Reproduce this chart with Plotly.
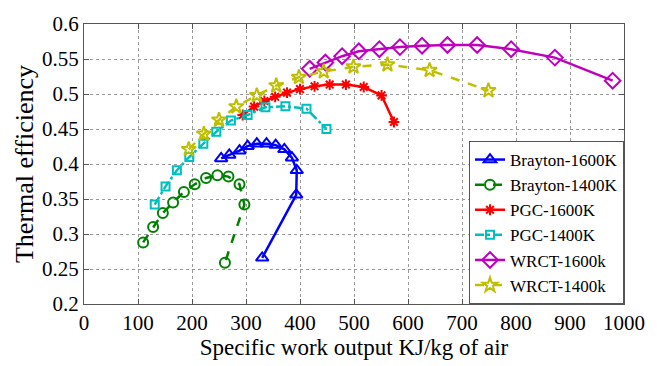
import plotly.graph_objects as go

# Data
brayton1600_x = [254, 269, 288, 303, 320, 338, 355, 371, 385, 394, 393, 330]
brayton1600_y = [0.408, 0.413, 0.419, 0.4255, 0.429, 0.429, 0.427, 0.421, 0.409, 0.391, 0.356, 0.266]

brayton1400_x = [109.5, 128, 146, 165, 185, 205, 226, 247, 267.5, 288, 297, 261]
brayton1400_y = [0.288, 0.310, 0.330, 0.345, 0.360, 0.371, 0.380, 0.384, 0.382, 0.371, 0.342, 0.259]

pgc1600_x = [294, 315, 334, 354, 376, 400, 427, 455, 485, 518, 551, 574]
pgc1600_y = [0.470, 0.482, 0.490, 0.496, 0.502, 0.507, 0.511, 0.5135, 0.5135, 0.510, 0.498, 0.460]

pgc1400_x = [131, 151, 172, 195, 221, 245, 272, 303, 336, 373, 412, 449]
pgc1400_y = [0.342, 0.368, 0.391, 0.410, 0.429, 0.446, 0.462, 0.470, 0.481, 0.4825, 0.479, 0.450]

wrct1600_x = [418, 447, 478, 509, 547, 585, 626, 673, 728, 791, 872, 979]
wrct1600_y = [0.536, 0.545, 0.554, 0.561, 0.564, 0.567, 0.569, 0.570, 0.570, 0.564, 0.552, 0.519]

wrct1400_x = [194, 222, 250, 282, 320, 356, 398, 444, 499, 562, 640, 749]
wrct1400_y = [0.421, 0.443, 0.463, 0.482, 0.498, 0.512, 0.524, 0.532, 0.539, 0.542, 0.534, 0.505]

x_ticks = [0, 100, 200, 300, 400, 500, 600, 700, 800, 900, 1000]
y_ticks = [0.2, 0.25, 0.3, 0.35, 0.4, 0.45, 0.5, 0.55, 0.6]

series = [
    ("Brayton-1600K", brayton1600_x, brayton1600_y, "#0000FF", "solid", "triangle-up-open", 11),
    ("Brayton-1400K", brayton1400_x, brayton1400_y, "#008000", "dash", "circle-open", 10),
    ("PGC-1600K", pgc1600_x, pgc1600_y, "#FF0000", "solid", "asterisk-open", 9),
    ("PGC-1400K", pgc1400_x, pgc1400_y, "#00BFBF", "dashdot", "square-open", 8),
    ("WRCT-1600k", wrct1600_x, wrct1600_y, "#BF00BF", "solid", "diamond-open", 12),
    ("WRCT-1400k", wrct1400_x, wrct1400_y, "#BFBF00", "dash", "star-open", 11),
]

SERIF = "Liberation Serif, Times New Roman, Times, serif"

fig = go.Figure()
for name, xs, ys, col, dash, sym, size in series:
    fig.add_trace(go.Scatter(
        x=xs, y=ys, name=name, mode="lines+markers",
        line=dict(color=col, width=2.5, dash=dash),
        marker=dict(symbol=sym, size=size, color=col, line=dict(color=col, width=2)),
    ))

axis_common = dict(
    showgrid=True, gridcolor="#999999", griddash="dot", gridwidth=1,
    showline=True, linecolor="#555555", linewidth=1, mirror="ticks",
    ticks="inside", ticklen=5, tickcolor="#555555", zeroline=False,
    tickfont=dict(family=SERIF, size=21, color="black"),
)

fig.update_layout(
    width=657, height=366,
    margin=dict(l=84, r=25, t=16, b=62),
    paper_bgcolor="white", plot_bgcolor="white",
    font=dict(family=SERIF, color="black"),
    xaxis=dict(range=[0, 1000], tickvals=x_ticks, ticktext=[str(v) for v in x_ticks],
               title=dict(text="Specific work output KJ/kg of air",
                          font=dict(family=SERIF, size=23), standoff=0),
               **axis_common),
    yaxis=dict(range=[0.2, 0.6], tickvals=y_ticks, ticktext=[f"{v:g}" for v in y_ticks],
               title=dict(text="Thermal efficiency",
                          font=dict(family=SERIF, size=26), standoff=0),
               **axis_common),
    legend=dict(x=1, xanchor="right", y=0, yanchor="bottom",
                bgcolor="white", bordercolor="#555555", borderwidth=1,
                font=dict(family=SERIF, size=17, color="black"),
                tracegroupgap=0, itemwidth=30),
    showlegend=True,
)

fig.write_html("out.html")
